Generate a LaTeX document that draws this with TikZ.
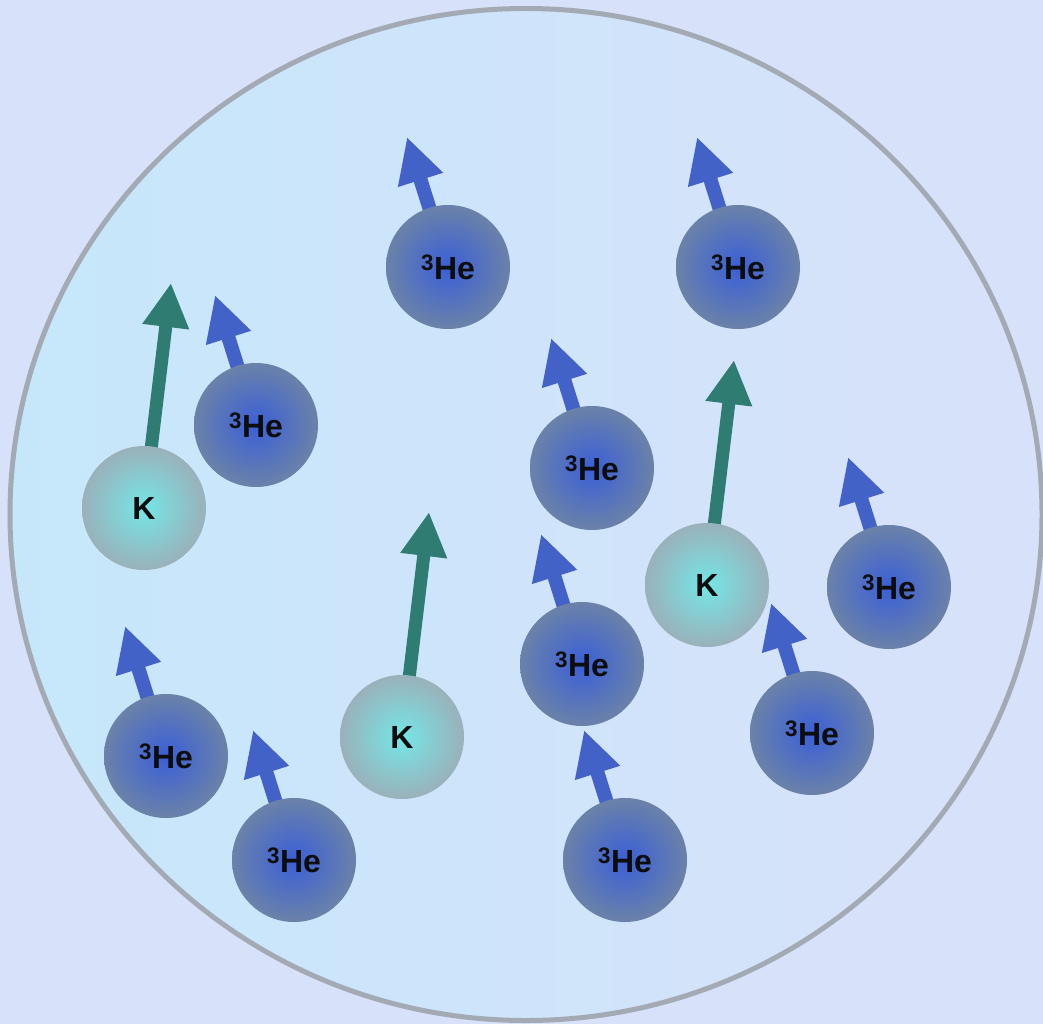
\documentclass[tikz,border=0pt]{standalone}
\usepackage{fontspec}
\setmainfont{Liberation Sans}
\usetikzlibrary{arrows.meta}

\definecolor{page}{HTML}{D7E1F9}
\definecolor{cellleft}{HTML}{C6E7FA}
\definecolor{cellright}{HTML}{D8E1FA}
\definecolor{cellrim}{HTML}{A3AAB3}
\definecolor{hecore}{HTML}{3A5FD8}
\definecolor{herim}{HTML}{6B82A8}
\definecolor{hespin}{HTML}{4262C8}
\definecolor{kcore}{HTML}{74E6E6}
\definecolor{krim}{HTML}{9AB1BA}
\definecolor{kspin}{HTML}{2F7C72}

\tikzset{
    atom/.style={
        circle,
        minimum size=124pt,
        inner sep=0pt,
        text=black!95,
        font=\bfseries\fontsize{32}{32}\selectfont,
    },
    helium/.style={atom, inner color=hecore, outer color=herim},
    potassium/.style={atom, inner color=kcore, outer color=krim},
    hearrow/.style={draw=hespin, line width=14pt,
        -{Triangle[length=45pt,width=44pt]}},
    karrow/.style={draw=kspin, line width=13pt,
        -{Triangle[length=44pt,width=44pt]}},
}

\begin{document}
\begin{tikzpicture}[x=1pt, y=-1pt]
    \useasboundingbox (0,0) rectangle (1043,1024);
    \clip (0,0) rectangle (1043,1024);
    \fill[page] (0,0) rectangle (1043,1024);

    % the cell
    \draw[cellrim, line width=5pt, left color=cellleft, right color=cellright]
        (526,514.5) ellipse [x radius=516, y radius=506];

    % potassium atoms with their spins
    \foreach \x/\y [count=\i] in {144/508, 707/585, 402/737} {
        \coordinate (kc\i) at (\x,\y);
        \draw[karrow] (kc\i) -- ++(27,-225);
        \node[potassium] (k\i) at (kc\i) {K};
    }

    % helium-3 atoms with their spins
    \foreach \x/\y [count=\i] in {448/267, 738/267, 256/425, 592/468,
                                  889/587, 582/664, 166/756, 812/733,
                                  294/860, 625/860} {
        \coordinate (hec\i) at (\x,\y);
        \draw[hearrow] (hec\i) -- ++(-41,-130);
        \node[helium] (he\i) at (hec\i) {\textsuperscript{3}He};
    }
\end{tikzpicture}
\end{document}
